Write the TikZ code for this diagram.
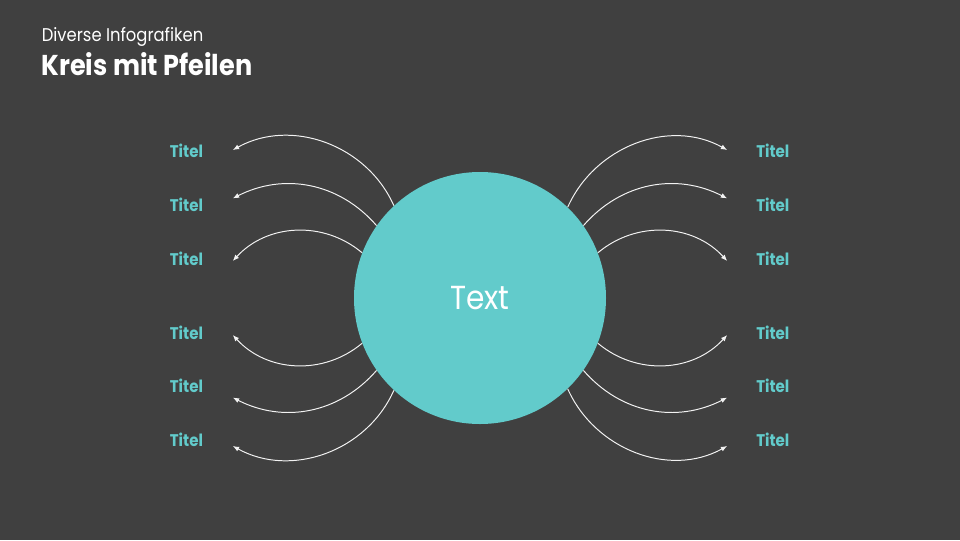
\documentclass[tikz,border=0pt]{standalone}
\usepackage{fontspec}
\setmainfont{Poppins}[FakeStretch=0.89]
\usetikzlibrary{arrows.meta}
\definecolor{hgrund}{HTML}{404040}
\definecolor{kreisfarbe}{HTML}{62CBCB}
\definecolor{pfeilfarbe}{HTML}{F2F2F2}
\tikzset{
  titel/.style={anchor=base, text=kreisfarbe, font=\fontsize{12}{14}\selectfont\bfseries},
  pfeil/.style={draw=pfeilfarbe, line width=0.7pt, -{Latex[length=4.5pt,width=3.6pt]}}
}
\begin{document}
\begin{tikzpicture}
  \fill[hgrund] (-12,-6.05) rectangle (12,7.45);
  \node[anchor=base west, inner sep=0pt, text=white, font=\fontsize{13.1}{15}\selectfont] (kopf) at (-10.96,6.41) {Diverse Infografiken};
  \node[anchor=base west, inner sep=0pt, text=white, font=\fontsize{20.4}{24}\selectfont\bfseries] (titel) at (-10.97,5.575) {Kreis mit Pfeilen};
  \node[circle, fill=kreisfarbe, minimum size=6.3cm, inner sep=0pt, text=white, font=\fontsize{23.7}{28}\selectfont] (c) at (0,0) {Text};
  % links oben
  \node[titel] (l1) at (-7.34,3.52) {Titel};
  \node[titel] (l2) at (-7.34,2.16) {Titel};
  \node[titel] (l3) at (-7.34,0.82) {Titel};
  \coordinate (el1) at (-6.18,3.70);
  \coordinate (el2) at (-6.18,2.49);
  \coordinate (el3) at (-6.18,0.925);
  \draw[pfeil] (c.133.5) to[out=114, in=29] (el1);
  \draw[pfeil] (c.145) to[out=131, in=27] (el2);
  \draw[pfeil] (c.159) to[out=140, in=47.5] (el3);
  % links unten
  \node[titel] (l4) at (-7.34,-1.025) {Titel};
  \node[titel] (l5) at (-7.34,-2.37) {Titel};
  \node[titel] (l6) at (-7.34,-3.72) {Titel};
  \coordinate (el4) at (-6.18,-0.925);
  \coordinate (el5) at (-6.18,-2.49);
  \coordinate (el6) at (-6.18,-3.70);
  \draw[pfeil] (c.-159) to[out=-140, in=-47.5] (el4);
  \draw[pfeil] (c.-145) to[out=-131, in=-27] (el5);
  \draw[pfeil] (c.-133.5) to[out=-114, in=-29] (el6);
  % rechts oben
  \node[titel] (r1) at (7.32,3.52) {Titel};
  \node[titel] (r2) at (7.32,2.16) {Titel};
  \node[titel] (r3) at (7.32,0.82) {Titel};
  \coordinate (er1) at (6.18,3.70);
  \coordinate (er2) at (6.18,2.49);
  \coordinate (er3) at (6.18,0.925);
  \draw[pfeil] (c.46.5) to[out=66, in=151] (er1);
  \draw[pfeil] (c.35) to[out=49, in=153] (er2);
  \draw[pfeil] (c.21) to[out=40, in=132.5] (er3);
  % rechts unten
  \node[titel] (r4) at (7.32,-1.025) {Titel};
  \node[titel] (r5) at (7.32,-2.37) {Titel};
  \node[titel] (r6) at (7.32,-3.72) {Titel};
  \coordinate (er4) at (6.18,-0.925);
  \coordinate (er5) at (6.18,-2.49);
  \coordinate (er6) at (6.18,-3.70);
  \draw[pfeil] (c.-21) to[out=-40, in=-132.5] (er4);
  \draw[pfeil] (c.-35) to[out=-49, in=-153] (er5);
  \draw[pfeil] (c.-46.5) to[out=-66, in=-151] (er6);
\end{tikzpicture}
\end{document}
